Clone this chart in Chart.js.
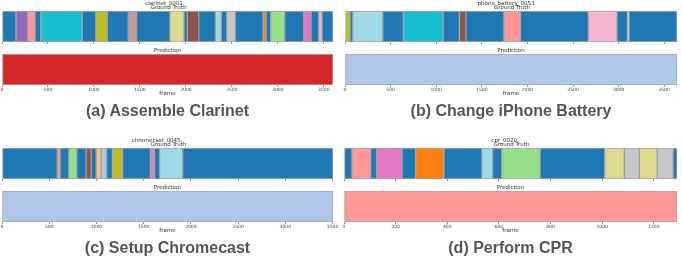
<!DOCTYPE html>
<html>
<head>
<meta charset="utf-8">
<script src="https://cdn.jsdelivr.net/npm/chart.js@4.4.1/dist/chart.umd.min.js"></script>
<style>
  body { margin: 0; background: #fff; width: 682px; height: 258px; overflow: hidden; position: relative; font-family: "DejaVu Sans", sans-serif; }
  canvas { position: absolute; }
  .t { position: absolute; font-size: 5.5px; color: #333; line-height: 1; white-space: nowrap; transform: translate(-50%, -50%); }
  .cap { position: absolute; font: bold 16px "Liberation Sans", Arial, sans-serif; color: #555; white-space: nowrap; transform: translate(-50%, -50%); }
</style>
</head>
<body>
<script>
// tab20 palette, indexed by action class
const TAB20 = ['#1f77b4', '#aec7e8', '#ff7f0e', '#ffbb78', '#2ca02c', '#98df8a', '#d62728', '#ff9896', '#9467bd', '#c5b0d5',
               '#8c564b', '#c49c94', '#e377c2', '#f7b6d2', '#7f7f7f', '#c7c7c7', '#bcbd22', '#dbdb8d', '#17becf', '#9edae5'];

// ---- data: segment boundaries (frames) and class of each segment ----
const clarinetEdges = [0, 152, 280, 359, 421, 873, 1019, 1145, 1374, 1465, 1827, 1979, 2015, 2139, 2320, 2385, 2444, 2537, 2839, 2871, 2922, 3075, 3281, 3361, 3444, 3480, 3600];
const clarinetGt    = [0, 8, 7, 0, 18, 0, 16, 0, 11, 0, 17, 0, 10, 0, 19, 0, 15, 0, 2, 0, 5, 0, 12, 0, 13, 0];
const clarinetPred  = 6;
const clarinetTicks = [0, 500, 1000, 1500, 2000, 2500, 3000, 3500];

const batteryEdges = [0, 55, 85, 414, 640, 1076, 1255, 1325, 1742, 1924, 2667, 2982, 3095, 3114, 3640];
const batteryGt    = [16, 0, 19, 0, 18, 0, 10, 0, 7, 0, 13, 0, 15, 0];
const batteryPred  = 1;
const batteryTicks = [0, 500, 1000, 1500, 2000, 2500, 3000, 3500];

const chromecastEdges = [0, 585, 616, 708, 793, 891, 944, 997, 1050, 1107, 1170, 1276, 1572, 1614, 1670, 1913, 3505];
const chromecastGt    = [0, 7, 0, 5, 0, 10, 0, 3, 1, 0, 16, 0, 12, 0, 19, 0];
const chromecastPred  = 1;
const chromecastTicks = [0, 500, 1000, 1500, 2000, 2500, 3000, 3500];

const cprEdges = [0, 31, 103, 127, 225, 277, 387, 534, 576, 611, 760, 1010, 1086, 1144, 1213, 1275, 1290];
const cprGt    = [0, 7, 0, 12, 0, 2, 0, 19, 0, 5, 0, 17, 15, 17, 15, 0];
const cprPred  = 7;
const cprTicks = [0, 200, 400, 600, 800, 1000, 1200];

const videoNames = ['clarinet_0001', 'phone_battery_0053', 'chromecast_0045.', 'cpr_0020.'];
const captions   = ['(a) Assemble Clarinet', '(b) Change iPhone Battery', '(c) Setup Chromecast', '(d) Perform CPR'];
const frameMax   = [3600, 3640, 3505, 1290];

// ---- layout ----
const BAR_H = 31, PRED_OFF = 43;
const panels = [
  { edges: clarinetEdges,   gt: clarinetGt,   pred: clarinetPred,   ticks: clarinetTicks,   x0: 2,   x1: 333, top: 11,  nameX: 164 },
  { edges: batteryEdges,    gt: batteryGt,    pred: batteryPred,    ticks: batteryTicks,    x0: 345, x1: 677, top: 11,  nameX: 506 },
  { edges: chromecastEdges, gt: chromecastGt, pred: chromecastPred, ticks: chromecastTicks, x0: 2,   x1: 333, top: 148, nameX: 157 },
  { edges: cprEdges,        gt: cprGt,        pred: cprPred,        ticks: cprTicks,        x0: 344, x1: 677, top: 148, nameX: 505 }
];

function addText(cls, txt, x, y) {
  const d = document.createElement('div');
  d.className = cls;
  d.textContent = txt;
  d.style.left = x + 'px';
  d.style.top = y + 'px';
  document.body.appendChild(d);
}

function drawStrip(p, i, isPred) {
  const pad = 8;
  const axisH = isPred ? 10 : 3;
  const c = document.createElement('canvas');
  c.width = p.x1 - p.x0 + 2 * pad;
  c.height = BAR_H + axisH;
  c.style.left = (p.x0 - pad) + 'px';
  c.style.top = (p.top + (isPred ? PRED_OFF : 0)) + 'px';
  document.body.appendChild(c);

  const edges = isPred ? [0, frameMax[i]] : p.edges;
  const cls = isPred ? [p.pred] : p.gt;
  const datasets = cls.map((k, j) => ({
    data: [[edges[j], edges[j + 1]]],
    backgroundColor: TAB20[k],
    borderColor: 'rgba(140,140,140,0.75)',
    borderWidth: 1,
    borderSkipped: false,
    barPercentage: 1,
    categoryPercentage: 1,
    grouped: false
  }));

  new Chart(c, {
    type: 'bar',
    data: { labels: [''], datasets },
    options: {
      indexAxis: 'y',
      responsive: false,
      animation: false,
      layout: { padding: { left: pad, right: pad, top: 0, bottom: 0 } },
      plugins: { legend: { display: false }, tooltip: { enabled: false } },
      scales: {
        y: { display: false },
        x: {
          type: 'linear', min: 0, max: frameMax[i],
          grid: { drawOnChartArea: false, tickLength: 2, color: '#999' },
          border: { display: false },
          ticks: {
            autoSkip: false, maxRotation: 0, padding: 0,
            color: isPred ? '#444' : 'rgba(0,0,0,0)',
            font: { size: 4.5, family: 'DejaVu Sans' },
            callback: v => String(v)
          },
          afterBuildTicks: s => { s.ticks = p.ticks.map(v => ({ value: v })); },
          afterFit: s => { s.height = axisH; s.paddingLeft = 0; s.paddingRight = 0; }
        }
      }
    }
  });
}

panels.forEach((p, i) => {
  drawStrip(p, i, false);
  drawStrip(p, i, true);
  const cx = (p.x0 + p.x1) / 2;
  addText('t', videoNames[i], p.nameX, p.top - 7);
  addText('t', 'Ground Truth', cx + 1, p.top - 3.5);
  addText('t', 'Prediction', cx, p.top + 39.5);
  addText('t', 'frame', cx, p.top + 82.5);
  addText('cap', captions[i], cx, p.top + 100);
});
</script>
</body>
</html>
